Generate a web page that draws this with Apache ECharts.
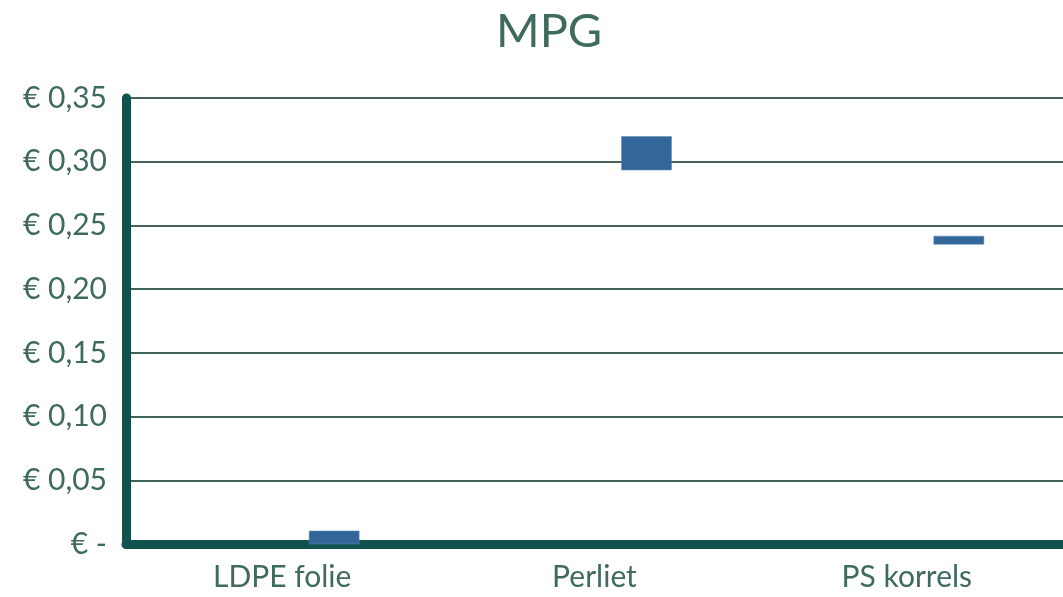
<!DOCTYPE html>
<html>
<head>
<meta charset="utf-8">
<script src="https://cdn.jsdelivr.net/npm/echarts@6/dist/echarts.min.js"></script>
<style>
html,body{margin:0;padding:0;background:#fff;}
#chart{width:1063px;height:597px;}
</style>
</head>
<body>
<div id="chart"></div>
<script>
const title = 'MPG';
const categories = ['LDPE folie', 'Perliet', 'PS korrels'];
const lowValues = [0, 0.2935, 0.2352];
const highValues = [0.0102, 0.3198, 0.2416];
const yTicks = [0, 0.05, 0.10, 0.15, 0.20, 0.25, 0.30, 0.35];

const textColor = '#3f6a5e';
const fontFam = 'Lato, "Noto Sans", sans-serif';

const chart = echarts.init(document.getElementById('chart'), null, {renderer: 'canvas'});
chart.setOption({
  animation: false,
  backgroundColor: '#ffffff',
  title: {
    text: title, left: 491, top: 3,
    textStyle: {color: textColor, fontSize: 47, fontWeight: 'normal', fontFamily: fontFam}
  },
  grid: {left: 126, top: 98, width: 945, height: 446, containLabel: false},
  xAxis: {
    type: 'category', data: categories,
    axisLine: {show: true, lineStyle: {color: '#11524f', width: 9}},
    axisTick: {show: false},
    axisLabel: {color: textColor, fontSize: 30, fontFamily: fontFam, margin: 18}
  },
  yAxis: {
    type: 'value', min: 0, max: 0.35, interval: 0.05,
    axisLine: {show: true, lineStyle: {color: '#11524f', width: 9}},
    axisTick: {show: false},
    splitLine: {show: true, lineStyle: {color: '#436359', width: 2}},
    axisLabel: {
      color: textColor, fontSize: 30, fontFamily: fontFam, margin: 19,
      formatter: function (v) {
        if (Math.abs(v) < 1e-9) return '€ -';
        return '€ ' + v.toFixed(2).replace('.', ',');
      }
    }
  },
  series: [{
    type: 'custom',
    data: categories.map((c, i) => [i, lowValues[i], highValues[i]]),
    encode: {x: 0, y: [1, 2]},
    renderItem: function (params, api) {
      const lo = api.coord([api.value(0), api.value(1)]);
      const hi = api.coord([api.value(0), api.value(2)]);
      const w = 50;
      const offset = 52;
      return {
        type: 'rect',
        shape: {x: lo[0] + offset - w / 2, y: hi[1], width: w, height: lo[1] - hi[1]},
        style: {fill: '#336699', stroke: '#5b86b3', lineWidth: 0.5}
      };
    },
    z: 1
  }]
});
</script>
</body>
</html>
